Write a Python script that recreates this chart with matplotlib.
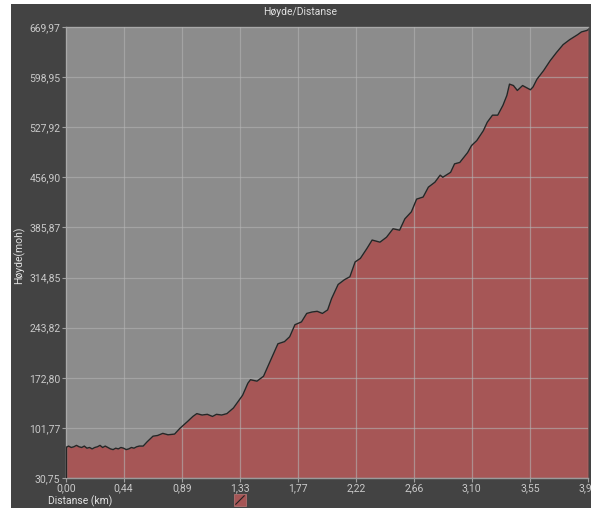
import numpy as np
import matplotlib
matplotlib.use("Agg")
import matplotlib.pyplot as plt
from matplotlib.patches import Rectangle

plt.rcParams['font.family'] = ['Roboto', 'DejaVu Sans']

# distance (km) and elevation (moh), 10 per row
dist = [0.00, 0.02, 0.04, 0.06, 0.08, 0.10, 0.12, 0.14, 0.16, 0.18,
        0.20, 0.22, 0.24, 0.26, 0.28, 0.30, 0.32, 0.34, 0.36, 0.38,
        0.40, 0.42, 0.44, 0.46, 0.48, 0.50, 0.52, 0.54, 0.56, 0.59,
        0.62, 0.665, 0.70, 0.74, 0.78, 0.83, 0.87, 0.93, 0.97, 1.00,
        1.04, 1.08, 1.12, 1.15, 1.19, 1.23, 1.28, 1.35, 1.39, 1.41,
        1.46, 1.51, 1.56, 1.62, 1.67, 1.71, 1.75, 1.80, 1.84, 1.88,
        1.92, 1.96, 2.00, 2.03, 2.08, 2.13, 2.17, 2.21, 2.25, 2.30,
        2.34, 2.40, 2.45, 2.50, 2.55, 2.59, 2.64, 2.68, 2.73, 2.77,
        2.82, 2.86, 2.88, 2.94, 2.97, 3.01, 3.07, 3.10, 3.14, 3.19,
        3.22, 3.26, 3.30, 3.34, 3.37, 3.39, 3.42, 3.45, 3.49, 3.51,
        3.55, 3.57, 3.60, 3.65, 3.70, 3.75, 3.80, 3.85, 3.91, 3.94,
        3.98, 3.99]
hoyde = [74, 76, 74, 75, 77, 75, 74, 76, 73, 74,
         72, 74, 75, 77, 74, 76, 74, 72, 71, 73,
         72, 74, 73, 71, 72, 74, 73, 75, 76, 76,
         82, 90, 91, 94, 92, 93, 101, 111, 118, 122,
         120, 121, 118, 121, 120, 122, 130, 148, 165, 170,
         168, 175, 196, 221, 224, 231, 248, 252, 264, 266,
         267, 264, 269, 285, 305, 312, 316, 337, 342, 356,
         368, 365, 372, 384, 382, 398, 408, 426, 429, 443,
         450, 460, 457, 464, 476, 478, 492, 502, 509, 523,
         535, 545, 545, 559, 573, 589, 587, 580, 587, 585,
         581, 585, 596, 608, 622, 634, 645, 652, 659, 663,
         665, 666]

y_ticks = [30.75, 101.77, 172.80, 243.82, 314.85, 385.87, 456.90, 527.92, 598.95, 669.97]
x_ticks = [0.00, 0.44, 0.89, 1.33, 1.77, 2.22, 2.66, 3.10, 3.55, 3.99]

panel = "#434343"
txt = "#c9c9c9"

fig = plt.figure(figsize=(5.91, 5.08), dpi=100)
fig.patch.set_facecolor("white")
fig.patches.append(Rectangle((11 / 591, 0), 1, (508 - 4) / 508, transform=fig.transFigure,
                             facecolor=panel, edgecolor="none", zorder=-5))

ax = fig.add_axes([66 / 591, 30 / 508, 522 / 591, 451 / 508])
ax.set_zorder(2)
ax.set_facecolor("#8c8c8c")
ax.fill_between(dist, 30.75, hoyde, color="#a65656", zorder=2, linewidth=0)
ax.plot(dist, hoyde, color="#262626", linewidth=1.0, zorder=3)
ax.plot([0, 0], [30.75, hoyde[0]], color="#262626", linewidth=1.0, zorder=3)

ax.set_xlim(0, 3.99)
ax.set_ylim(30.75, 669.97)
ax.set_xticks(x_ticks)
ax.set_xticklabels([f"{v:.2f}".replace(".", ",") for v in x_ticks])
ax.set_yticks(y_ticks)
ax.set_yticklabels([f"{v:.2f}".replace(".", ",") for v in y_ticks])
ax.grid(True, color="#b4b4b4", linewidth=0.9, alpha=0.6, zorder=4)
ax.set_axisbelow(False)
ax.tick_params(colors="#a0a0a0", labelcolor=txt, labelsize=7.5, length=3, width=0.8, pad=1)
for s in ax.spines.values():
    s.set_color("#9a9a9a")
    s.set_linewidth(1.0)
ax.spines["right"].set_visible(False)

fig.text(300 / 591, 1 - 12 / 508, "Høyde/Distanse", color="#e0e0e0", fontsize=7.5,
         ha="center", va="center")
fig.text(19 / 591, 1 - 255 / 508, "Høyde(moh)", color="#e0e0e0", fontsize=7.5,
         rotation=90, ha="center", va="center")
fig.text(48 / 591, 1 - 501 / 508, "Distanse (km)", color="#e0e0e0", fontsize=7.5,
         ha="left", va="center")

# legend swatch
lx, ly, lw, lh = 234 / 591, 1 - 506 / 508, 12 / 591, 12 / 508
fig.patches.append(Rectangle((lx, ly), lw, lh, transform=fig.transFigure,
                             facecolor="#a65656", edgecolor="#b07070", linewidth=0.6))
fig.lines.append(plt.Line2D([lx + 0.15 * lw, lx + 0.85 * lw], [ly + 0.15 * lh, ly + 0.85 * lh],
                            transform=fig.transFigure, color="#222222", linewidth=0.8))

fig.savefig("out.png", dpi=100, facecolor=fig.get_facecolor())
